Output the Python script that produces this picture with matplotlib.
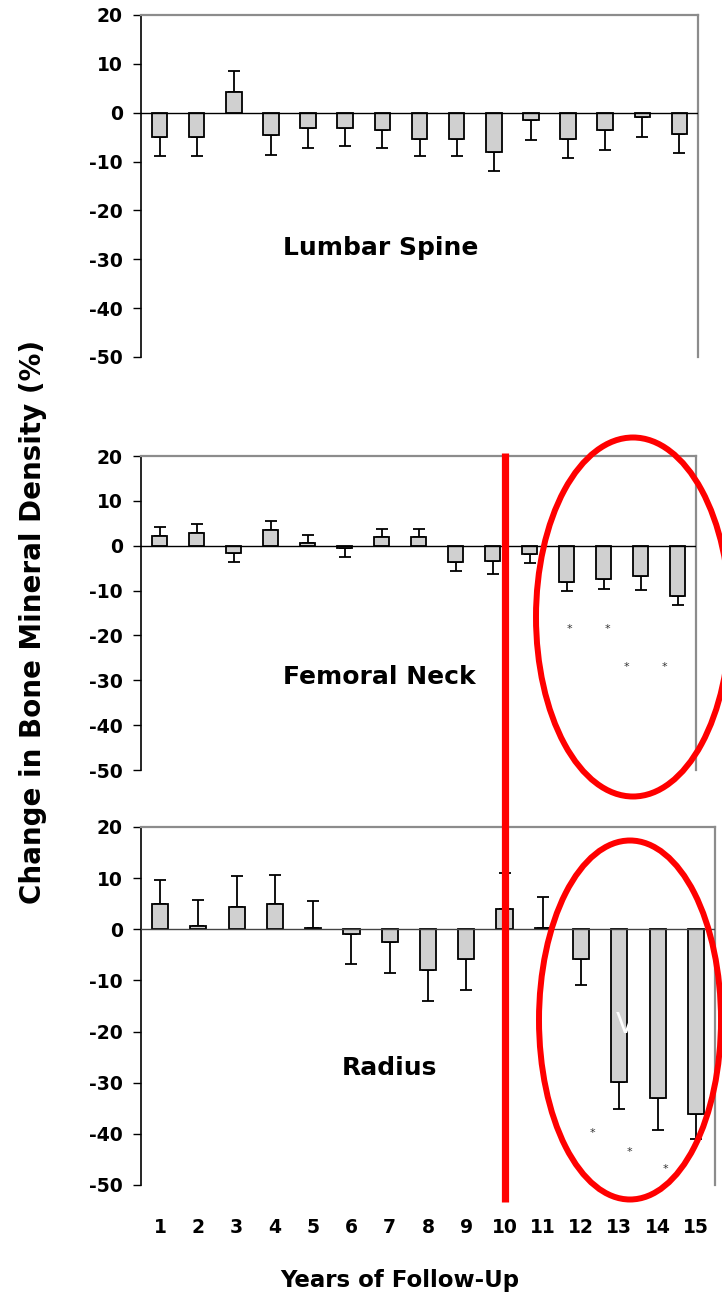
import matplotlib
matplotlib.use("Agg")
import matplotlib.pyplot as plt
import matplotlib.transforms as mtransforms
from matplotlib.patches import Ellipse
from matplotlib.lines import Line2D

# ---------------- data ----------------
years = list(range(1, 16))
year_labels = [str(y) for y in years]

lumbar_mean = [-4.9, -4.9, 4.3, -4.5, -3.2, -3.2, -3.6, -5.3, -5.3, -8.0, -1.5, -5.3, -3.6, -0.8, -4.3]
lumbar_sd = [4.0, 4.0, 4.2, 4.2, 4.1, 3.7, 3.7, 3.6, 3.6, 4.0, 4.1, 4.0, 4.0, 4.1, 3.9]

femoral_mean = [2.1, 2.8, -1.6, 3.4, 0.6, -0.5, 1.9, 1.9, -3.7, -3.3, -1.9, -8.1, -7.5, -6.8, -11.3]
femoral_sd = [2.0, 2.1, 2.1, 2.1, 1.9, 2.0, 1.9, 1.9, 1.9, 2.9, 2.0, 1.9, 2.1, 3.0, 2.0]
femoral_star_x = [12.08, 13.1, 13.62, 14.65]
femoral_star_y = [-18.5, -18.5, -27.0, -27.0]

radius_mean = [4.9, 0.6, 4.3, 4.9, 0.3, -1.0, -2.5, -8.0, -5.8, 4.0, 0.3, -5.8, -29.9, -33.0, -36.1]
radius_sd = [4.8, 5.2, 6.1, 5.7, 5.2, 5.7, 6.0, 6.0, 6.0, 7.0, 6.1, 5.0, 5.3, 6.2, 4.9]
radius_star_x = [12.3, 13.26, 14.2]
radius_star_y = [-39.8, -43.5, -46.9]

panel_names = ["Lumbar Spine", "Femoral Neck", "Radius"]
yticks = [20, 10, 0, -10, -20, -30, -40, -50]

# ---------------- figure ----------------
W, H = 722, 1296
fig = plt.figure(figsize=(W / 100, H / 100), dpi=100)
fig.patch.set_facecolor("white")


def rect(l, r, t, b):
    return [l / W, 1 - b / H, (r - l) / W, (b - t) / H]


axes_rects = [rect(141, 698, 15, 357), rect(141, 696, 456, 770), rect(141, 715, 827, 1185)]
means = [lumbar_mean, femoral_mean, radius_mean]
sds = [lumbar_sd, femoral_sd, radius_sd]
label_pos = [(0.431, 0.32), (0.429, 0.296), (0.432, 0.327)]
zero_colors = ["black", "black", "#444444"]

axes = []
for i in range(3):
    ax = fig.add_axes(axes_rects[i])
    axes.append(ax)
    m = means[i]
    s = sds[i]
    lower = [sd if v < 0 else 0 for v, sd in zip(m, s)]
    upper = [sd if v >= 0 else 0 for v, sd in zip(m, s)]
    ax.errorbar(years, m, yerr=[lower, upper], fmt="none", ecolor="black",
                elinewidth=1.3, capsize=4.5, capthick=1.3, zorder=2)
    ax.bar(years, m, width=0.42, color="#d0d0d0", edgecolor="black",
           linewidth=1.3, zorder=3)
    ax.axhline(0, color=zero_colors[i], linewidth=1.0, zorder=4)
    ax.set_xlim(0.5, 15.5)
    ax.set_ylim(-50, 20)
    ax.set_yticks(yticks)
    ax.set_yticklabels([str(t) for t in yticks], fontsize=13.5, fontweight="bold")
    ax.tick_params(axis="y", direction="out", length=6, width=1.0, pad=7, color="black")
    ax.spines["left"].set_color("black")
    ax.spines["left"].set_linewidth(1.2)
    for sp in ("top", "right"):
        ax.spines[sp].set_color("#8c8c8c")
        ax.spines[sp].set_linewidth(1.6)
    ax.spines["bottom"].set_visible(False)
    ax.set_facecolor("white")
    ax.text(label_pos[i][0], label_pos[i][1], panel_names[i], transform=ax.transAxes,
            ha="center", va="center", fontsize=18, fontweight="bold", color="black")
    if i < 2:
        ax.set_xticks([])
    else:
        ax.set_xticks(years)
        ax.set_xticklabels(year_labels, fontsize=13.5, fontweight="bold")
        ax.tick_params(axis="x", length=0, pad=24)

# asterisks
for x, y in zip(femoral_star_x, femoral_star_y):
    axes[1].text(x, y, "*", ha="center", va="center", fontsize=8, color="#333333", zorder=5)
for x, y in zip(radius_star_x, radius_star_y):
    axes[2].text(x, y, "*", ha="center", va="center", fontsize=8, color="#333333", zorder=5)

# white glyph on radius bar 13
axes[2].text(13.15, -18.8, "V", ha="center", va="center", fontsize=20,
             color="white", zorder=6)

# axis titles
fig.text(33 / W, 1 - 622 / H, "Change in Bone Mineral Density (%)", rotation=90,
         ha="center", va="center", fontsize=20, fontweight="bold")
fig.text(400 / W, 1 - 1280 / H, "Years of Follow-Up", ha="center", va="center",
         fontsize=16.5, fontweight="bold")

# red annotations
blend = mtransforms.blended_transform_factory(axes[2].transData, fig.transFigure)
fig.add_artist(Line2D([10, 10], [1 - 453 / H, 1 - 1202 / H], transform=blend,
                      color="#ff0000", linewidth=5.2, solid_capstyle="butt", zorder=10))
fig.add_artist(Ellipse((633 / W, 1 - 617 / H), width=194 / W, height=359 / H,
                       transform=fig.transFigure, fill=False, edgecolor="#ff0000",
                       linewidth=4.3, zorder=10))
fig.add_artist(Ellipse((630 / W, 1 - 1020 / H), width=182 / W, height=359 / H,
                       transform=fig.transFigure, fill=False, edgecolor="#ff0000",
                       linewidth=4.3, zorder=10))

fig.savefig("out.png", dpi=100)
